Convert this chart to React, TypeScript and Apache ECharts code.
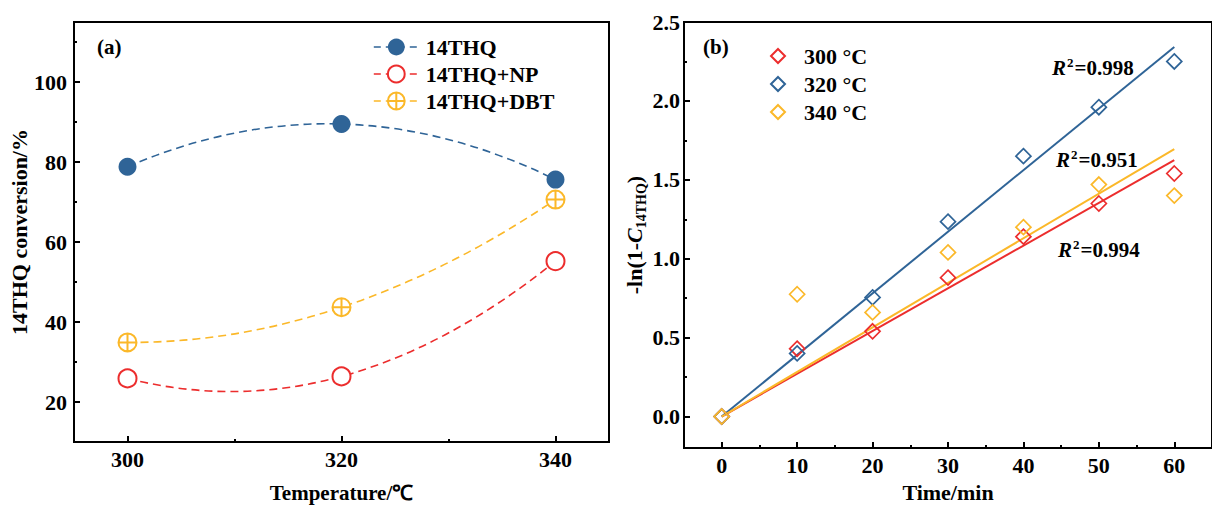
import React, { useEffect, useRef } from 'react';
import * as echarts from 'echarts';

// ---------- Panel (a) data ----------
const temperatures = [300, 320, 340];
const conv14THQ = [78.8, 89.5, 75.6];
const convNP = [25.9, 26.4, 55.2];
const convDBT = [34.9, 43.7, 70.6];
const seriesNamesA = ['14THQ', '14THQ+NP', '14THQ+DBT'];

// ---------- Panel (b) data ----------
const times = [0, 10, 20, 30, 40, 50, 60];
const k300 = [0, 0.43, 0.54, 0.88, 1.14, 1.35, 1.54];
const k320 = [0, 0.4, 0.755, 1.235, 1.65, 1.96, 2.25];
const k340 = [0, 0.775, 0.66, 1.04, 1.2, 1.47, 1.4];
const fitTimes = [0, 60];
const fit300 = [0, 1.625];
const fit320 = [0, 2.342];
const fit340 = [0, 1.694];
const seriesNamesB = ['300 °C', '320 °C', '340 °C'];
const r2Values = ['0.998', '0.951', '0.994'];

// ---------- Tick labels ----------
const leftXMajor = [300, 320, 340];
const leftXMinor = [310, 330];
const leftYMajor = [20, 40, 60, 80, 100];
const leftYMinor = [30, 50, 70, 90, 110];
const rightXMajor = [0, 10, 20, 30, 40, 50, 60];
const rightXMinor = [5, 15, 25, 35, 45, 55];
const rightYMajor = [0, 0.5, 1.0, 1.5, 2.0, 2.5];
const rightYMinor = [0.25, 0.75, 1.25, 1.75, 2.25];

const BLUE = '#2f6497';
const RED = '#ec2d2d';
const YELLOW = '#fbb829';
const FONT = "'Liberation Serif', 'Times New Roman', serif";

const pairs = (xs: number[], ys: number[]) => xs.map((x, i) => [x, ys[i]]);

const baseText = { fontFamily: FONT, fontWeight: 'bold' as const, color: '#000' };

function majorAxis(gridIndex: number, min: number, max: number, values: number[], extra: any) {
  return {
    type: 'value',
    gridIndex,
    min,
    max,
    axisLine: { show: true, onZero: false, lineStyle: { color: '#000', width: 2 } },
    axisTick: { show: true, inside: true, length: 6, lineStyle: { color: '#000', width: 2 }, customValues: values },
    axisLabel: { ...baseText, fontSize: 22, customValues: values, ...(extra.axisLabel || {}) },
    splitLine: { show: false },
    ...extra.rest,
  };
}

function minorAxis(gridIndex: number, min: number, max: number, values: number[], position: string) {
  return {
    type: 'value',
    gridIndex,
    min,
    max,
    position,
    axisLine: { show: false, onZero: false },
    axisTick: { show: true, inside: true, length: 3, lineStyle: { color: '#000', width: 2 }, customValues: values },
    axisLabel: { show: false, customValues: values },
    splitLine: { show: false },
  };
}

const CIRCLE_PLUS = 'path://M10,0A10,10,0,1,1,10,20A10,10,0,1,1,10,0ZM10,0L10,20M0,10L20,10';

function parabolaSeries(name: string, ys: number[], color: string) {
  return {
    type: 'custom',
    name: name + '-curve',
    xAxisIndex: 0,
    yAxisIndex: 0,
    silent: true,
    z: 1,
    data: pairs(temperatures, ys),
    renderItem: (params: any, api: any) => {
      if (params.dataIndex !== 0) return null;
      const x0 = api.value(0, 0), y0 = api.value(1, 0);
      const x1 = api.value(0, 1), y1 = api.value(1, 1);
      const x2 = api.value(0, 2), y2 = api.value(1, 2);
      const p0 = api.coord([x0, y0]);
      const p2 = api.coord([x2, y2]);
      const c = api.coord([x1, (4 * y1 - y0 - y2) / 2]);
      return {
        type: 'bezierCurve',
        shape: { x1: p0[0], y1: p0[1], x2: p2[0], y2: p2[1], cpx1: c[0], cpy1: c[1] },
        style: { stroke: color, fill: 'none', lineWidth: 1.6, lineDash: [8, 5] },
      };
    },
  };
}

function markerSeries(name: string, ys: number[], color: string, symbol: string, filled: boolean) {
  return {
    type: 'line',
    name,
    xAxisIndex: 0,
    yAxisIndex: 0,
    z: 3,
    data: pairs(temperatures, ys),
    symbol,
    symbolSize: 18,
    symbolKeepAspect: true,
    showSymbol: true,
    lineStyle: { color, opacity: 0, width: 1.5 },
    itemStyle: filled
      ? { color, borderColor: color, borderWidth: 0 }
      : { color: '#fff', borderColor: color, borderWidth: 2 },
  };
}

function scatterSeries(name: string, ys: number[], color: string) {
  return {
    type: 'scatter',
    name,
    xAxisIndex: 2,
    yAxisIndex: 2,
    z: 4,
    data: pairs(times, ys),
    symbol: 'diamond',
    symbolSize: 15,
    itemStyle: { color: 'transparent', borderColor: color, borderWidth: 1.7, opacity: 1 },
  };
}

function fitSeries(name: string, ys: number[], color: string) {
  return {
    type: 'line',
    name: name + '-fit',
    xAxisIndex: 2,
    yAxisIndex: 2,
    z: 2,
    silent: true,
    data: pairs(fitTimes, ys),
    showSymbol: false,
    symbol: 'none',
    lineStyle: { color, width: 2 },
  };
}

function r2Text(x: number, y: number, value: string) {
  return {
    type: 'text',
    x,
    y,
    style: {
      text: `{r|R}{s|2}{t|=${value}}`,
      align: 'left',
      verticalAlign: 'middle',
      rich: {
        r: { fontFamily: FONT, fontWeight: 'bold', fontStyle: 'italic', fontSize: 21, lineHeight: 24, fill: '#000' },
        s: { fontFamily: FONT, fontWeight: 'bold', fontSize: 13, lineHeight: 13, verticalAlign: 'top', fill: '#000', padding: [0, 1, 0, 1] },
        t: { fontFamily: FONT, fontWeight: 'bold', fontSize: 21, lineHeight: 24, fill: '#000' },
      },
    },
  };
}

export default function App() {
  const ref = useRef<HTMLDivElement>(null);

  useEffect(() => {
    if (!ref.current) return;
    const chart = echarts.init(ref.current, undefined, { renderer: 'svg' });

    const option: any = {
      animation: false,
      backgroundColor: '#fff',
      grid: [
        { left: 74, top: 22, width: 535, height: 429, show: true, borderColor: '#000', borderWidth: 2, containLabel: false },
        { left: 684, top: 22, width: 538, height: 429, show: true, borderColor: '#000', borderWidth: 2, containLabel: false },
      ],
      xAxis: [
        majorAxis(0, 295, 345, leftXMajor, {
          axisLabel: { margin: 6 },
          rest: {
            position: 'bottom',
            name: 'Temperature/℃',
            nameLocation: 'middle',
            nameGap: 40,
            nameTextStyle: { ...baseText, fontSize: 21 },
          },
        }),
        minorAxis(0, 295, 345, leftXMinor, 'bottom'),
        majorAxis(1, -5, 65, rightXMajor, {
          axisLabel: { margin: 6 },
          rest: {
            position: 'bottom',
            name: 'Time/min',
            nameLocation: 'middle',
            nameGap: 30,
            nameTextStyle: { ...baseText, fontSize: 22 },
          },
        }),
        minorAxis(1, -5, 65, rightXMinor, 'bottom'),
      ],
      yAxis: [
        majorAxis(0, 10, 115, leftYMajor, {
          axisLabel: { margin: 7 },
          rest: {
            position: 'left',
            name: '14THQ conversion/%',
            nameLocation: 'middle',
            nameGap: 37,
            nameTextStyle: { ...baseText, fontSize: 22 },
          },
        }),
        minorAxis(0, 10, 115, leftYMinor, 'left'),
        majorAxis(1, -0.2, 2.5, rightYMajor, {
          axisLabel: { margin: 4, formatter: (v: number) => v.toFixed(1) },
          rest: {
            position: 'left',
            name: '{a|-ln(1-}{c|C}{s|14THQ}{a|)}',
            nameLocation: 'middle',
            nameGap: 33,
            nameTextStyle: {
              ...baseText,
              fontSize: 22,
              rich: {
                a: { fontFamily: FONT, fontWeight: 'bold', fontSize: 22, lineHeight: 28, color: '#000' },
                c: { fontFamily: FONT, fontWeight: 'bold', fontStyle: 'italic', fontSize: 22, lineHeight: 28, color: '#000' },
                s: { fontFamily: FONT, fontWeight: 'bold', fontSize: 14, lineHeight: 12, verticalAlign: 'bottom', color: '#000' },
              },
            },
          },
        }),
        minorAxis(1, -0.2, 2.5, rightYMinor, 'left'),
      ],
      legend: [
        {
          orient: 'vertical',
          left: 373,
          top: 36,
          padding: 0,
          itemWidth: 45,
          itemHeight: 21,
          itemGap: 5,
          textStyle: { ...baseText, fontSize: 22, padding: [0, 0, 0, 2] },
          lineStyle: { type: [7, 5], width: 1.6, opacity: 1 },
          data: seriesNamesA,
          selectedMode: false,
        },
        {
          orient: 'vertical',
          left: 770,
          top: 45,
          padding: 0,
          itemWidth: 14,
          itemHeight: 14,
          itemGap: 6,
          textStyle: { ...baseText, fontSize: 22, padding: [0, 0, 0, 14] },
          data: seriesNamesB,
          selectedMode: false,
        },
      ],
      graphic: [
        { type: 'text', x: 97, y: 47, style: { text: '(a)', font: `bold 21px ${FONT}`, fill: '#000', verticalAlign: 'middle' } },
        { type: 'text', x: 703, y: 47, style: { text: '(b)', font: `bold 21px ${FONT}`, fill: '#000', verticalAlign: 'middle' } },
        r2Text(1052, 68, r2Values[0]),
        r2Text(1056, 160, r2Values[1]),
        r2Text(1058, 250, r2Values[2]),
      ],
      series: [
        parabolaSeries(seriesNamesA[0], conv14THQ, BLUE),
        parabolaSeries(seriesNamesA[1], convNP, RED),
        parabolaSeries(seriesNamesA[2], convDBT, YELLOW),
        markerSeries(seriesNamesA[0], conv14THQ, BLUE, 'circle', true),
        markerSeries(seriesNamesA[1], convNP, RED, 'circle', false),
        markerSeries(seriesNamesA[2], convDBT, YELLOW, CIRCLE_PLUS, false),
        fitSeries(seriesNamesB[0], fit300, RED),
        fitSeries(seriesNamesB[1], fit320, BLUE),
        fitSeries(seriesNamesB[2], fit340, YELLOW),
        scatterSeries(seriesNamesB[0], k300, RED),
        scatterSeries(seriesNamesB[1], k320, BLUE),
        scatterSeries(seriesNamesB[2], k340, YELLOW),
      ],
    };

    chart.setOption(option);
    return () => chart.dispose();
  }, []);

  return (
    <div
      ref={ref}
      style={{ position: 'absolute', left: 0, top: 0, width: 1212, height: 508, background: '#fff' }}
    />
  );
}
